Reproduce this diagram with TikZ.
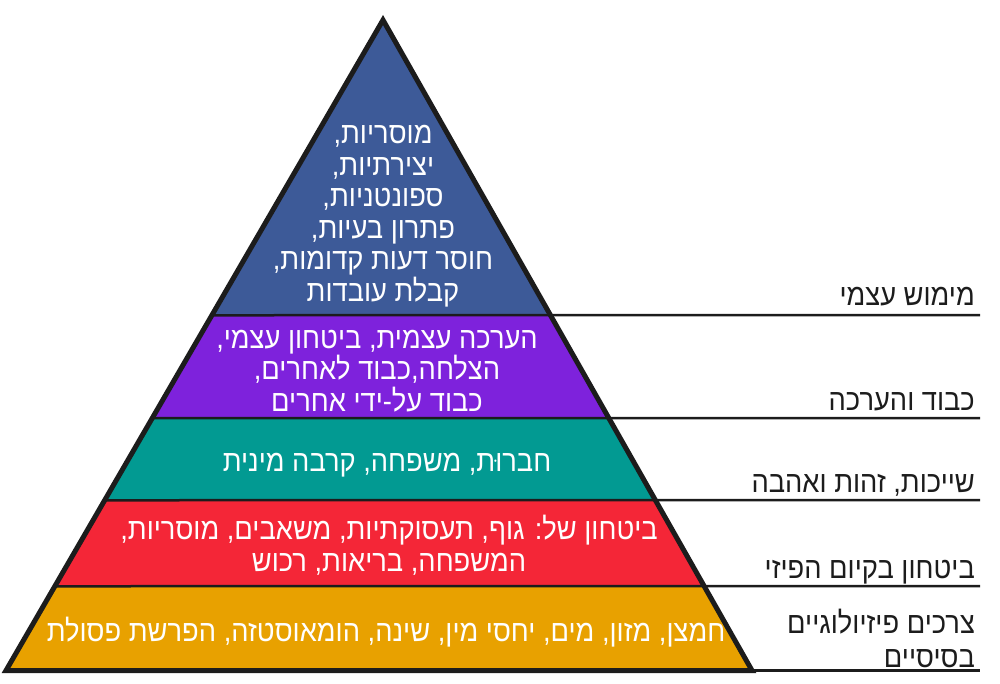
\documentclass[tikz,border=0pt]{standalone}
\usepackage{fontspec}
\usepackage{graphicx}
\newfontfamily\hebfont[Script=Hebrew]{Liberation Sans}
\TeXXeTstate=1
\usetikzlibrary{calc}
\definecolor{cblue}{HTML}{3D5A98}
\definecolor{cpurple}{HTML}{7E22DC}
\definecolor{cteal}{HTML}{029A92}
\definecolor{cred}{HTML}{F42637}
\definecolor{corange}{HTML}{E8A100}
\definecolor{cline}{HTML}{1C1C1C}
\newcommand{\heb}[1]{\scalebox{0.91}[1]{\beginR #1\endR}}
\begin{document}
\begin{tikzpicture}[x=1pt,y=-1pt,
  wt/.style={text=white,font=\hebfont\fontsize{30}{31.5}\selectfont,align=center,inner sep=0pt},
  lab/.style={text=cline,font=\hebfont\fontsize{30}{34}\selectfont,align=right,inner sep=0pt,anchor=east},
  sep/.style={draw=cline,line width=2.5pt},
  outline/.style={draw=cline,line width=5pt,line join=miter}]
\useasboundingbox (0,0) rectangle (1000,683);
\coordinate (A) at (383,20);
\coordinate (L) at (6,670.5);
\coordinate (R) at (752,670.5);
\begin{scope}
\clip (A)--(L)--(R)--cycle;
\fill[cblue] (0,0) rectangle (1000,315);
\fill[cpurple] (0,315) rectangle (1000,418);
\fill[cteal] (0,418) rectangle (1000,500);
\fill[cred] (0,500) rectangle (1000,586);
\fill[corange] (0,586) rectangle (1000,675);
\end{scope}
\coordinate (b1) at ($(A)!0.4539!(L)$);
\coordinate (b2) at ($(A)!0.6122!(L)$);
\coordinate (b3) at ($(A)!0.7383!(L)$);
\coordinate (b4) at ($(A)!0.8705!(L)$);
\coordinate (e1) at (980,315);
\coordinate (e2) at (980,418);
\coordinate (e3) at (980,500);
\coordinate (e4) at (980,586);
\coordinate (e5) at (980,670.5);
\draw[sep] (b1) -- (e1);
\draw[sep] (b2) -- (e2);
\draw[sep] (b3) -- (e3);
\draw[sep] (b4) -- (e4);
\draw[sep] (R) -- (e5);
\draw[outline] (A)--(L)--(R)--cycle;
% texts inside
\node[wt] (t5) at (383,216) {\heb{מוסריות,}\\\heb{יצירתיות,}\\\heb{ספונטניות,}\\\heb{פתרון בעיות,}\\\heb{חוסר דעות קדומות,}\\\heb{קבלת עובדות}};
\node[wt] (t4) at (377,371) {\heb{הערכה עצמית, ביטחון עצמי,}\\\heb{הצלחה,כבוד לאחרים,}\\\heb{כבוד על-ידי אחרים}};
\node[wt] (t3) at (387,465) {\heb{חברוּת, משפחה, קרבה מינית}};
\node[wt] (t2) at (389,545) {\heb{ביטחון של: גוף, תעסוקתיות, משאבים, מוסריות,}\\\heb{המשפחה, בריאות, רכוש}};
\node[wt] (t1) at (386,632) {\heb{חמצן, מזון, מים, יחסי מין, שינה, הומאוסטזה, הפרשת פסולת}};
% labels right
\node[lab] (l5) at (975,297) {\heb{מימוש עצמי}};
\node[lab] (l4) at (975,402) {\heb{כבוד והערכה}};
\node[lab] (l3) at (975,485) {\heb{שייכות, זהות ואהבה}};
\node[lab] (l2) at (975,572) {\heb{ביטחון בקיום הפיזי}};
\node[lab] (l1) at (975,638) {\heb{צרכים פיזיולוגיים}\\\heb{בסיסיים}};
\end{tikzpicture}
\end{document}
